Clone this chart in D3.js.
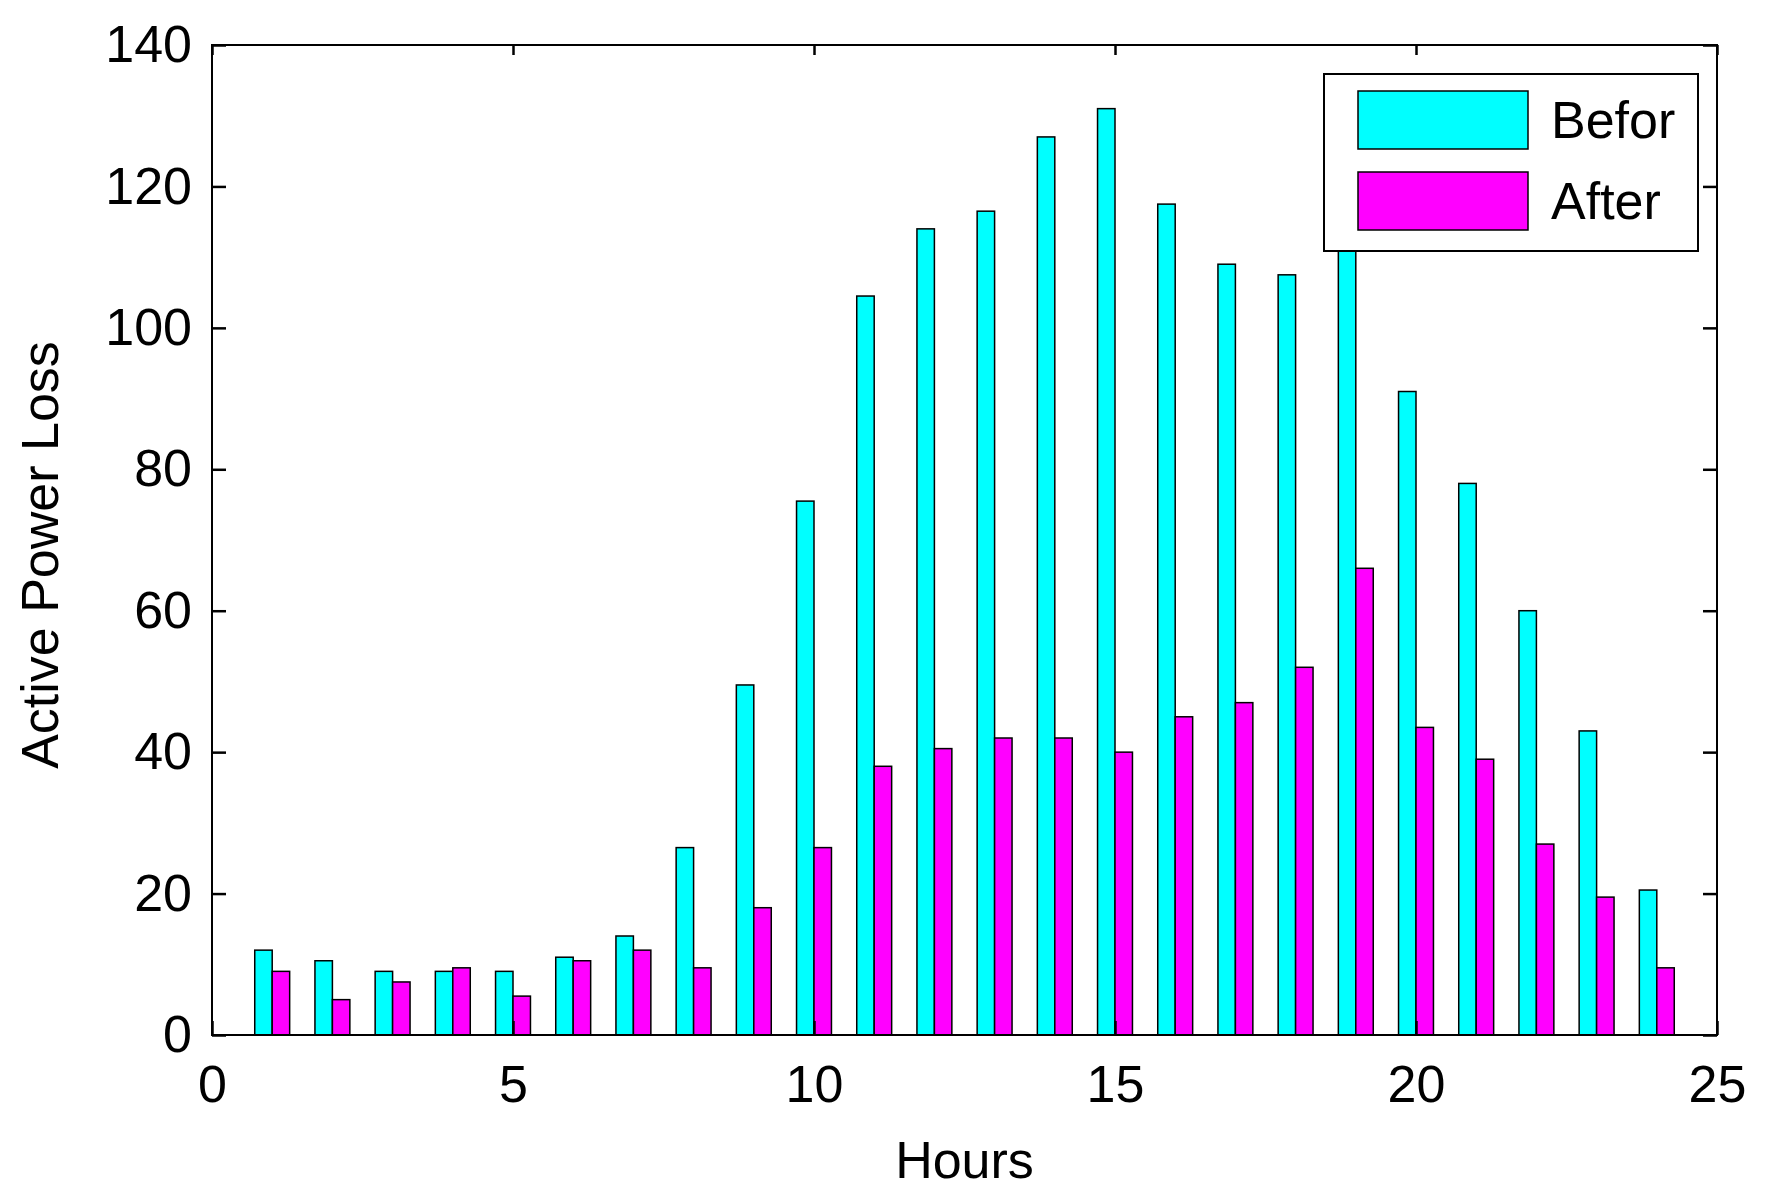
<!DOCTYPE html>
<html><head><meta charset="utf-8">
<script src="https://cdn.jsdelivr.net/npm/d3@7"></script>
<style>body{margin:0;background:#fff}text{font-family:"Liberation Sans",Arial,sans-serif}</style>
</head><body><div id="chart"></div>
<script>
// data
var hours = d3.range(1, 25);
var before = [12, 10.5, 9, 9, 9, 11, 14, 26.5, 49.5, 75.5, 104.5, 114, 116.5, 127, 131, 117.5, 109, 107.5, 112, 91, 78, 60, 43, 20.5];
var after = [9, 5, 7.5, 9.5, 5.5, 10.5, 12, 9.5, 18, 26.5, 38, 40.5, 42, 42, 40, 45, 47, 52, 66, 43.5, 39, 27, 19.5, 9.5];
var xTicks = [0, 5, 10, 15, 20, 25];
var yTicks = [0, 20, 40, 60, 80, 100, 120, 140];

var svgWidth = 1766, svgHeight = 1195;
var margin = {top: 45, right: 49, bottom: 160, left: 212};
var width = svgWidth - margin.left - margin.right;
var height = svgHeight - margin.top - margin.bottom;

var svg = d3.select("#chart").append("svg")
  .attr("width", svgWidth).attr("height", svgHeight);
var g = svg.append("g").attr("transform", `translate(${margin.left},${margin.top})`);

var x = d3.scaleLinear().domain([0, 25]).range([0, width]);
var y = d3.scaleLinear().domain([0, 140]).range([height, 0]);
var bw = x(0.29) - x(0);

// bars
g.selectAll(".b").data(hours).enter().append("rect")
  .attr("x", d => x(d) - bw).attr("width", bw)
  .attr("y", (d, i) => y(before[i])).attr("height", (d, i) => y(0) - y(before[i]))
  .attr("fill", "#00ffff").attr("stroke", "#000").attr("stroke-width", 1.5);
g.selectAll(".a").data(hours).enter().append("rect")
  .attr("x", d => x(d)).attr("width", bw)
  .attr("y", (d, i) => y(after[i])).attr("height", (d, i) => y(0) - y(after[i]))
  .attr("fill", "#ff00ff").attr("stroke", "#000").attr("stroke-width", 1.5);

// axes with inward ticks on all sides
function style(sel) {
  sel.select(".domain").remove();
  sel.selectAll("line").attr("stroke", "#000").attr("stroke-width", 2.5);
  sel.selectAll("text").attr("font-size", 52).attr("fill", "#000");
}
g.append("g").attr("transform", `translate(0,${height})`)
  .call(d3.axisBottom(x).tickValues(xTicks).tickSize(-14).tickPadding(30)).call(style);
g.append("g")
  .call(d3.axisLeft(y).tickValues(yTicks).tickSize(-14).tickPadding(20)).call(style);
g.append("g")
  .call(d3.axisTop(x).tickValues(xTicks).tickSize(-10).tickFormat("")).call(style);
g.append("g").attr("transform", `translate(${width},0)`)
  .call(d3.axisRight(y).tickValues(yTicks).tickSize(-14).tickFormat("")).call(style);

g.append("rect").attr("width", width).attr("height", height)
  .attr("fill", "none").attr("stroke", "#000").attr("stroke-width", 2);

// legend
var lg = g.append("g").attr("transform", `translate(${1324 - margin.left},${74 - margin.top})`);
lg.append("rect").attr("width", 374).attr("height", 177)
  .attr("fill", "#fff").attr("stroke", "#000").attr("stroke-width", 2);
[["Befor", "#00ffff"], ["After", "#ff00ff"]].forEach(function(d, i) {
  lg.append("rect").attr("x", 34).attr("y", 17 + i * 81).attr("width", 170).attr("height", 58)
    .attr("fill", d[1]).attr("stroke", "#000").attr("stroke-width", 1.5);
  lg.append("text").attr("x", 227).attr("y", 64 + i * 81).attr("font-size", 52).text(d[0]);
});

// labels
svg.append("text").attr("x", margin.left + x(12.5)).attr("y", 1178)
  .attr("text-anchor", "middle").attr("font-size", 52).text("Hours");
svg.append("text").attr("transform", "translate(58,555) rotate(-90)")
  .attr("text-anchor", "middle").attr("font-size", 52).text("Active Power Loss");
</script></body></html>
